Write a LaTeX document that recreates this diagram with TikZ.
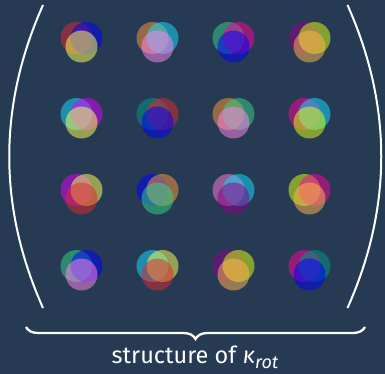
\documentclass[tikz,border=0pt]{standalone}
\usepackage{fontspec}
\setmainfont{Fira Sans}
\usetikzlibrary{decorations.pathreplacing, calc}

\definecolor{slate}{HTML}{263B53}
\definecolor{cRed}{RGB}{222,41,47}
\definecolor{cBlue}{RGB}{0,0,255}
\definecolor{cYellow}{RGB}{255,255,87}
\definecolor{cBrown}{RGB}{255,151,57}
\definecolor{cCyan}{RGB}{22,221,255}
\definecolor{cPink}{RGB}{255,131,237}
\definecolor{cTeal}{RGB}{52,211,137}
\definecolor{cMagenta}{RGB}{252,1,157}
\definecolor{cPlum}{RGB}{142,1,137}
\definecolor{cLime}{RGB}{222,255,17}
\definecolor{cTan}{RGB}{255,181,77}
\definecolor{cViolet}{RGB}{222,1,255}
\definecolor{cDeepTeal}{RGB}{2,151,137}
\definecolor{cMauve}{RGB}{255,121,217}

\begin{document}
\begin{tikzpicture}[
    x=1pt, y=-1pt,
    blob/.style={circle, inner sep=0pt, minimum size=32pt, fill opacity=0.52},
    paren/.style={white, line width=2pt},
    caption/.style={white, font=\fontsize{23.5}{26}\selectfont}
]
\useasboundingbox (0,0) rectangle (385,374);
\fill[slate] (0,0) rectangle (385,374);

% 4x4 kernel entries: left, right, lower circle
\foreach \r/\c/\cl/\cr/\cd in {
    0/0/cRed/cBlue/cYellow, 0/1/cBrown/cCyan/cPink,
    0/2/cTeal/cMagenta/cBlue, 0/3/cPlum/cLime/cTan,
    1/0/cCyan/cViolet/cYellow, 1/1/cDeepTeal/cRed/cBlue,
    1/2/cBrown/cTeal/cPink, 1/3/cMagenta/cCyan/cLime,
    2/0/cViolet/cYellow/cRed, 2/1/cBlue/cBrown/cTeal,
    2/2/cMauve/cCyan/cPlum, 2/3/cLime/cMagenta/cTan,
    3/0/cTeal/cBlue/cPink, 3/1/cCyan/cYellow/cRed,
    3/2/cPlum/cLime/cTan, 3/3/cMagenta/cDeepTeal/cBlue} {
  \pgfmathsetmacro\px{81.5+76*\c}
  \pgfmathsetmacro\py{38+76*\r}
  \node[blob, fill=\cl] (L-\r-\c) at (\px-5,\py) {};
  \node[blob, fill=\cr] (R-\r-\c) at (\px+5,\py) {};
  \node[blob, fill=\cd] (D-\r-\c) at (\px,\py+8.5) {};
}

% matrix brackets
\draw[paren] (43,5) .. controls (-2,106) and (-2,207) .. (43,308);
\draw[paren] (347.5,5) .. controls (392.5,106) and (392.5,207) .. (347.5,308);

% brace and caption
\coordinate (braceL) at (26,327);
\coordinate (braceR) at (365,327);
\draw[paren, line width=2.3pt, decorate, decoration={brace, mirror, amplitude=12pt}] (braceL) -- (braceR);
\node[caption, anchor=base] (label) at (195,363)
  {structure of \textit{κ}\raisebox{-0.45ex}{\fontsize{18}{18}\selectfont\itshape rot}};
\end{tikzpicture}
\end{document}
